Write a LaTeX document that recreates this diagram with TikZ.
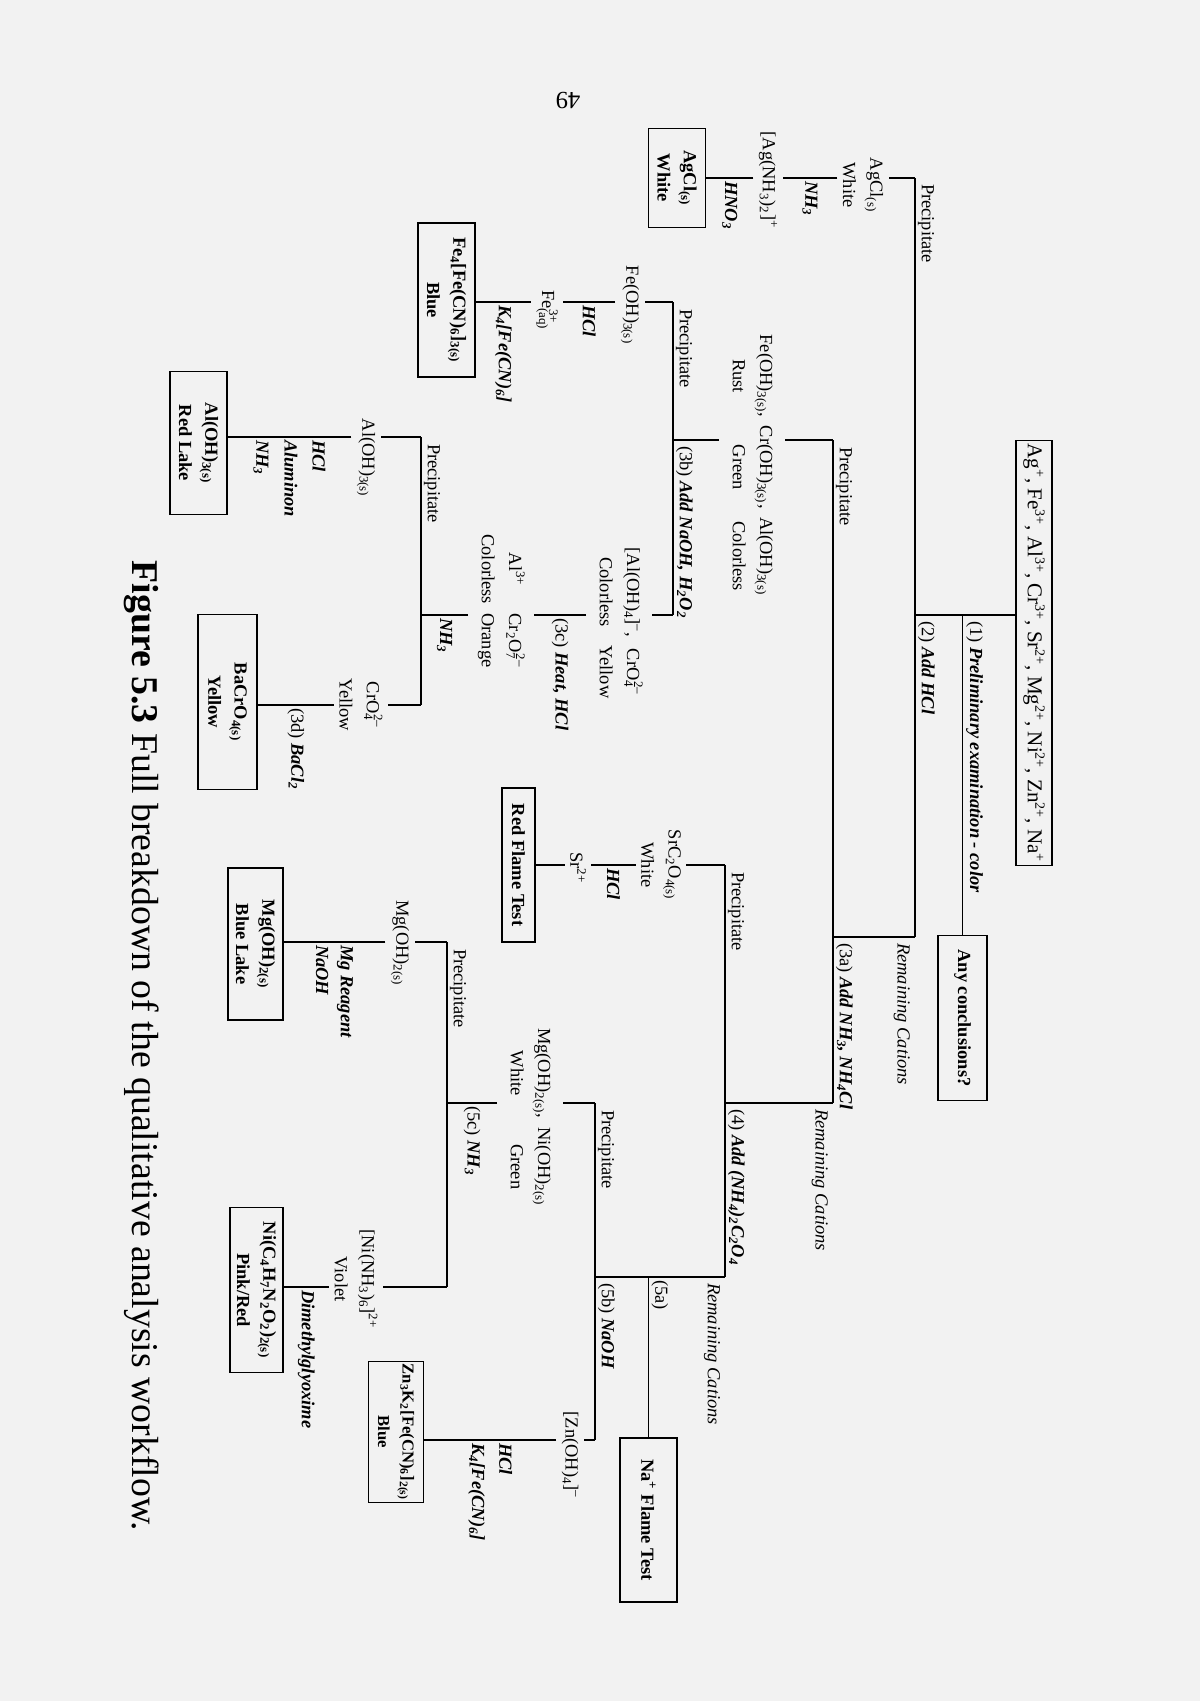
\documentclass[tikz,border=0pt]{standalone}
\usepackage{fontspec}
\setmainfont{Liberation Serif}
\usetikzlibrary{positioning}
\newcommand{\dn}[1]{\textsubscript{#1}}
\newcommand{\up}[1]{\textsuperscript{#1}}
\newcommand{\ud}[2]{\textsubscript{\rlap{#1}}\textsuperscript{#2}}
\newcommand{\stp}[1]{{\normalfont #1}}
\newcommand{\two}[4]{\begin{tabular}{@{}c@{\hspace{0.5em}}c@{}}#1 & #2\\ #3 & #4\end{tabular}}

\begin{document}
\begin{tikzpicture}[
	line width=0.6pt,
	lbl/.style={inner sep=1mm, font=\fontsize{10.5}{15.5}\selectfont, align=center},
	tag/.style={inner sep=0.5mm, font=\fontsize{10.5}{13}\selectfont, anchor=south west},
	rgt/.style={inner sep=0.5mm, font=\fontsize{10.5}{15.5}\selectfont\bfseries\itshape, anchor=west, align=left},
	rem/.style={inner sep=0.5mm, font=\fontsize{10.5}{13}\selectfont\itshape, anchor=north west},
	res/.style={draw, line width=0.8pt, font=\fontsize{10.5}{15}\selectfont\bfseries, align=center, inner sep=0.5mm},
	]
	\fill[black!5] (0,0) rectangle (24,-34.02);
	\useasboundingbox (0,0) rectangle (24,-34.02);

	\begin{scope}[x=0.2mm, y=0.2mm, rotate=-90, transform shape]
		% start
		\node[res, font=\fontsize{12}{14}\selectfont, minimum width=85mm, minimum height=7.2mm] (cat) at (653,1034)
			{Ag\up{+}, Fe\up{3+}, Al\up{3+}, Cr\up{3+}, Sr\up{2+}, Mg\up{2+}, Ni\up{2+}, Zn\up{2+}, Na\up{+}};
		\node[res, minimum width=33mm, minimum height=9.8mm] (anyc) at (1018,962.5) {Any conclusions?};

		\coordinate (b1) at (615,915);
		\coordinate (b1L) at (178,915);
		\coordinate (b1R) at (937,915);
		\draw (b1) -- (b1 |- cat.south);
		\draw (b1 |- anyc.west) -- (anyc.west);
		\draw (b1L) -- (b1R);
		\node[rgt, anchor=south west] at (618,963) {\stp{(1)} Preliminary examination - color};
		\node[rgt, anchor=south west] at (618,915) {\stp{(2)} Add HCl};

		% group 1
		\node[tag] at (181,915) {Precipitate};
		\node[lbl] (agcl) at (185,863) {AgCl\dn{(s)}\\White};
		\node[lbl] (agnh) at (180,768) {[Ag(NH\dn{3})\dn{2}]\up{+}};
		\node[res, minimum width=19.8mm, minimum height=11.4mm] (agbox) at (178,677) {AgCl\dn{(s)}\\White};
		\draw (b1L) -- (b1L |- agcl.north);
		\draw (b1L |- agcl.south) -- (b1L |- agnh.north) node[rgt, midway] {NH\dn{3}};
		\draw (b1L |- agnh.south) -- (b1L |- agbox.north) node[rgt, midway] {HNO\dn{3}};

		% level 2
		\coordinate (b2L) at (440,833);
		\coordinate (b2R) at (1103,833);
		\draw (b1R) -- (b1R |- b2L);
		\draw (b2L) -- (b2R);
		\node[tag] at (444,833) {Precipitate};
		\node[rem] at (940,913) {Remaining Cations};
		\node[rgt, anchor=south west] at (940,833) {\stp{(3a)} Add NH\dn{3}, NH\dn{4}Cl};
		\node[lbl] (fecr) at (465,752) {\begin{tabular}{@{}c@{\hspace{0.45em}}c@{\hspace{0.45em}}c@{}}Fe(OH)\dn{3(s)}, & Cr(OH)\dn{3(s)}, & Al(OH)\dn{3(s)}\\ Rust & Green & Colorless\end{tabular}};
		\draw (b2L) -- (b2L |- fecr.north);

		% 3b
		\coordinate (b3bL) at (302,673);
		\coordinate (b3bR) at (615,673);
		\draw (b2L |- fecr.south) -- (b2L |- b3bL);
		\draw (b3bL) -- (b3bR);
		\node[tag] at (306,673) {Precipitate};
		\node[rgt, anchor=south west] at (443,673) {\stp{(3b)} Add NaOH, H\dn{2}O\dn{2}};
		\node[lbl] (feoh) at (305,630) {Fe(OH)\dn{3(s)}};
		\node[lbl] (fe3) at (307,547) {Fe\ud{(aq)}{3+}};
		\node[res, minimum width=30.8mm, minimum height=11.4mm] (febox) at (300,446.5) {Fe\dn{4}[Fe(CN)\dn{6}]\dn{3(s)}\\Blue};
		\draw (b3bL) -- (b3bL |- feoh.north);
		\draw (b3bL |- feoh.south) -- (b3bL |- fe3.north) node[rgt, midway] {HCl};
		\draw (b3bL |- fe3.south) -- (b3bL |- febox.north) node[rgt, midway] {K\dn{4}[Fe(CN)\dn{6}]};

		\node[lbl] (alcr) at (623,619) {\two{[Al(OH)\dn{4}]\up{--},}{CrO\ud{4}{2--}}{Colorless}{Yellow}};
		\node[lbl] (al3) at (601,501) {\two{Al\up{3+}}{Cr\dn{2}O\ud{7}{2--}}{Colorless}{Orange}};
		\draw (b3bR) -- (b3bR |- alcr.north);
		\draw (b3bR |- alcr.south) -- (b3bR |- al3.north) node[rgt, midway] {\stp{(3c)} Heat, HCl};

		% NH3 split
		\coordinate (b3nL) at (437,421);
		\coordinate (b3nR) at (705,421);
		\draw (b3bR |- al3.south) -- (b3bR |- b3nL) node[rgt, midway] {NH\dn{3}};
		\draw (b3nL) -- (b3nR);
		\node[tag] at (441,421) {Precipitate};
		\node[lbl] (aloh) at (458,366) {Al(OH)\dn{3(s)}};
		\node[res, minimum width=28.6mm, minimum height=11.4mm] (albox) at (443,198.5) {Al(OH)\dn{3(s)}\\Red Lake};
		\draw (b3nL) -- (b3nL |- aloh.north);
		\draw (b3nL |- aloh.south) -- (b3nL |- albox.north) node[rgt, midway, font=\fontsize{10.5}{16}\selectfont\bfseries\itshape] {HCl\\Aluminon\\NH\dn{3}};
		\node[lbl] (cro4) at (705,361) {CrO\ud{4}{2--}\\Yellow};
		\node[res, minimum width=35mm, minimum height=11.8mm] (bacr) at (702,227.5) {BaCrO\dn{4(s)}\\Yellow};
		\draw (b3nR) -- (b3nR |- cro4.north);
		\draw (b3nR |- cro4.south) -- (b3nR |- bacr.north) node[rgt, midway] {\stp{(3d)} BaCl\dn{2}};

		% level 3
		\coordinate (b3L) at (865,725);
		\coordinate (b3R) at (1277,725);
		\draw (b2R) -- (b2R |- b3L);
		\draw (b3L) -- (b3R);
		\node[tag] at (869,725) {Precipitate};
		\node[rem] at (1106,831) {Remaining Cations};
		\node[rgt, anchor=south west] at (1106,725) {\stp{(4)} Add (NH\dn{4})\dn{2}C\dn{2}O\dn{4}};
		\node[lbl] (srco) at (865,661) {SrC\dn{2}O\dn{4(s)}\\White};
		\node[lbl] (sr) at (868,578) {Sr\up{2+}};
		\node[res, minimum width=30.8mm, minimum height=6.6mm] (red) at (865,518.5) {Red Flame Test};
		\draw (b3L) -- (b3L |- srco.north);
		\draw (b3L |- srco.south) -- (b3L |- sr.north) node[rgt, midway] {HCl};
		\draw (b3L |- sr.south) -- (b3L |- red.north);

		% level 4
		\coordinate (b4L) at (1103,595);
		\coordinate (b4R) at (1440,595);
		\coordinate (b4) at (1277,595);
		\draw (b3R) -- (b4);
		\draw (b4L) -- (b4R);
		\node[rem] at (1280,723) {Remaining Cations};
		\node[res, minimum width=32.8mm, minimum height=11.4mm] (na) at (1520,648.5) {Na\up{+} Flame Test};
		\draw (b3R |- na.west) -- (na.west) node[rgt, anchor=south west, pos=0] {\stp{(5a)}};
		\node[tag] at (1107,595) {Precipitate};
		\node[rgt, anchor=south west] at (1280,595) {\stp{(5b)} NaOH};
		\node[lbl] (mgni) at (1117,530) {\two{Mg(OH)\dn{2(s)},}{Ni(OH)\dn{2(s)}}{White}{Green}};
		\draw (b4L) -- (b4L |- mgni.north);

		% 5c
		\coordinate (b5L) at (942,447);
		\coordinate (b5R) at (1287,447);
		\draw (b4L |- mgni.south) -- (b4L |- b5L) node[rgt, midway] {\stp{(5c)} NH\dn{3}};
		\draw (b5L) -- (b5R);
		\node[tag] at (946,447) {Precipitate};
		\node[lbl] (mgoh) at (943,400) {Mg(OH)\dn{2(s)}};
		\node[res, minimum width=30.4mm, minimum height=11mm] (mgbox) at (944,255.5) {Mg(OH)\dn{2(s)}\\Blue Lake};
		\draw (b5L) -- (b5L |- mgoh.north);
		\draw (b5L |- mgoh.south) -- (b5L |- mgbox.north) node[rgt, midway, font=\fontsize{10.5}{14}\selectfont\bfseries\itshape] {Mg Reagent\\NaOH};
		\node[lbl] (ninh) at (1279,356) {[Ni(NH\dn{3})\dn{6}]\up{2+}\\Violet};
		\node[res, minimum width=33mm, minimum height=10.6mm] (nibox) at (1290,256.5) {Ni(C\dn{4}H\dn{7}N\dn{2}O\dn{2})\dn{2(s)}\\Pink/Red};
		\draw (b5R) -- (b5R |- ninh.north);
		\draw (b5R |- ninh.south) -- (b5R |- nibox.north) node[rgt, midway] {Dimethylglyoxime};

		% zinc
		\node[lbl] (znoh) at (1455,570) {[Zn(OH)\dn{4}]\up{--}};
		\node[res, font=\fontsize{9.5}{14}\selectfont\bfseries, minimum width=23mm, minimum height=11mm] (znbox) at (1432,396) {Zn\dn{3}K\dn{2}[Fe(CN)\dn{6}]\dn{2(s)}\\Blue};
		\draw (b4R) -- (b4R |- znoh.north);
		\draw (b4R |- znoh.south) -- (b4R |- znbox.north) node[rgt, midway] {HCl\\K\dn{4}[Fe(CN)\dn{6}]};

		% caption
		\node[font=\fontsize{21.5}{24}\selectfont] (cap) at (1046,142) {\textbf{Figure 5.3} Full breakdown of the qualitative analysis workflow.};
	\end{scope}

	\node[rotate=180, font=\fontsize{14}{16}\selectfont] (page) at (11.36,-2.02) {49};
\end{tikzpicture}
\end{document}
